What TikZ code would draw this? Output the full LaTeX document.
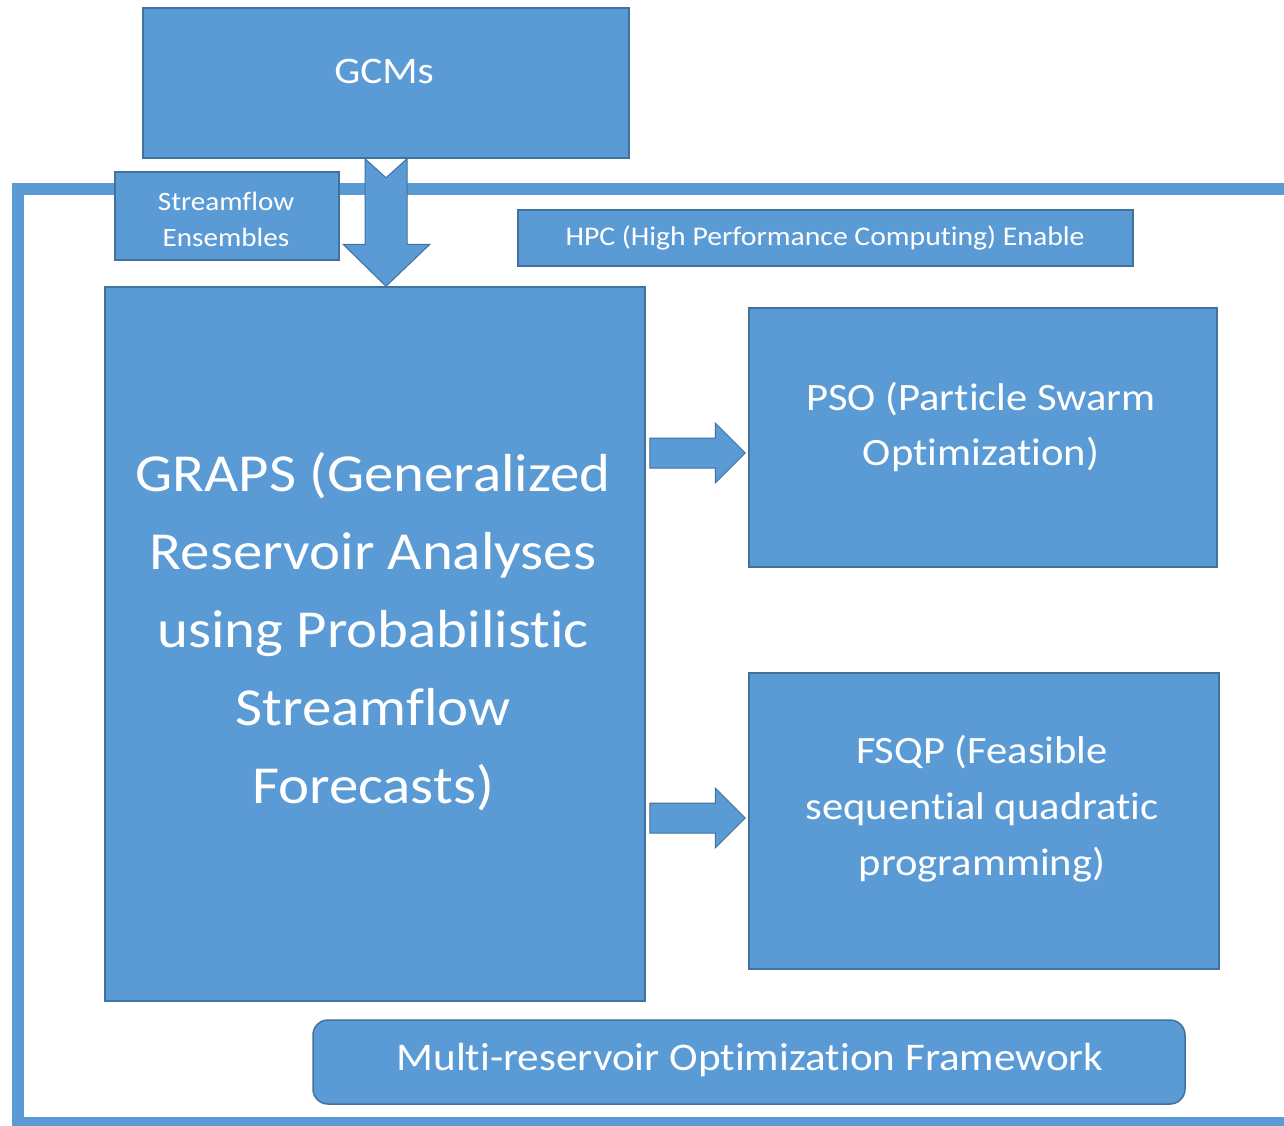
\documentclass[tikz,border=0pt]{standalone}
\usepackage{fontspec}
\setmainfont{Carlito}[FakeStretch=1.1, Ligatures=NoCommon]
\usetikzlibrary{calc}
\definecolor{boxfill}{HTML}{5B9BD5}
\definecolor{boxline}{HTML}{41719C}
\tikzset{
  box/.style={draw=boxline, fill=boxfill, line width=1.5pt, inner sep=0pt, rectangle},
  txt/.style={text=white, align=center, inner sep=0pt},
  arrowfill/.style={draw=boxline, fill=boxfill, line width=1pt, line join=miter},
}
\begin{document}
\begin{tikzpicture}[x=1pt, y=-1pt]
\useasboundingbox (0,0) rectangle (1284,1126);
\clip (0,0) rectangle (1284,1126);
% outer frame
\draw[boxfill, line width=12pt] (18,189) rectangle (1320,1123);
% boxes
\node[box, minimum width=486pt, minimum height=150pt] (gcms) at (386,83) {};
\node[box, minimum width=224pt, minimum height=88pt] (stream) at (227,216) {};
\node[box, minimum width=615pt, minimum height=56pt] (hpc) at (825.5,238) {};
\node[box, minimum width=540pt, minimum height=714pt] (graps) at (375,644) {};
\node[box, minimum width=468pt, minimum height=259pt] (pso) at (983,437.5) {};
\node[box, minimum width=470pt, minimum height=296pt] (fsqp) at (984,821) {};
\node[box, rounded corners=15pt, minimum width=872pt, minimum height=84pt] (multi) at (749,1062) {};
% texts
\node[txt, font=\fontsize{37.5}{44}\selectfont] (gcmsT) at (384,71) {GCMs};
\node[txt, font=\fontsize{26.5}{36}\selectfont] (streamT) at (226,219) {Streamflow\\Ensembles};
\node[txt, font=\fontsize{27}{32}\selectfont] (hpcT) at (825,238) {HPC (High Performance Computing) Enable};
\node[txt, font=\fontsize{53.5}{78}\selectfont] (grapsT) at (373,632) {GRAPS (Generalized\\Reservoir Analyses\\using Probabilistic\\Streamflow\\Forecasts)};
\node[txt, font=\fontsize{38.7}{55}\selectfont] (psoT) at (981,426.5) {PSO (Particle Swarm\\Optimization)};
\node[txt, font=\fontsize{38.7}{56}\selectfont] (fsqpT) at (982,809) {FSQP (Feasible\\sequential quadratic\\programming)};
\node[txt, font=\fontsize{39.2}{44}\selectfont] (multiT) at (750,1060) {Multi-reservoir Optimization Framework};
% big down arrow GCMs -> GRAPS
\coordinate (top) at (gcms.south);
\coordinate (tip) at (gcms.south |- graps.north);
\draw[arrowfill] ($(top)+(-21,0)$) -- ($(top)+(0,19)$) -- ($(top)+(21,0)$)
  -- ($(tip)+(21,-42)$) -- ($(tip)+(44,-42)$) -- (tip) -- ($(tip)+(-43,-42)$)
  -- ($(tip)+(-21,-42)$) -- cycle;
% right arrows
\coordinate (y1) at (0,453);
\coordinate (y2) at (0,818);
\coordinate (s1) at ($(graps.east |- y1)+(4,0)$);
\coordinate (t1) at ($(pso.west |- y1)+(-3,0)$);
\coordinate (s2) at ($(graps.east |- y2)+(4,0)$);
\coordinate (t2) at ($(fsqp.west |- y2)+(-3,0)$);
\draw[arrowfill] ($(s1)+(0,-15)$) -- ($(t1)+(-30,-15)$) -- ($(t1)+(-30,-30)$) -- (t1)
  -- ($(t1)+(-30,30)$) -- ($(t1)+(-30,15)$) -- ($(s1)+(0,15)$) -- cycle;
\draw[arrowfill] ($(s2)+(0,-15)$) -- ($(t2)+(-30,-15)$) -- ($(t2)+(-30,-30)$) -- (t2)
  -- ($(t2)+(-30,30)$) -- ($(t2)+(-30,15)$) -- ($(s2)+(0,15)$) -- cycle;
\end{tikzpicture}
\end{document}
